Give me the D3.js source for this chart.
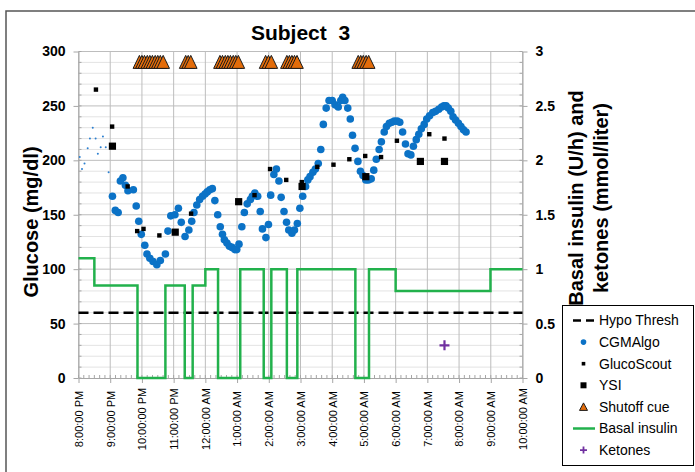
<!DOCTYPE html>
<html>
<head>
<meta charset="utf-8">
<script src="https://cdn.jsdelivr.net/npm/d3@7"></script>
<style>
  body { margin: 0; background: #fff; }
  svg { display: block; }
  text { font-family: "Liberation Sans", Arial, Helvetica, sans-serif; }
</style>
</head>
<body>
<svg id="chart" width="695" height="472"></svg>
<script>
// Time values are hours elapsed since 8:00 PM; glucose in mg/dl.
const cgmWarmup = [[0.04,203],[0.11,192],[0.19,197],[0.29,211],[0.36,220],[0.45,230],[0.54,220],[0.61,206],[0.70,212],[0.77,222],[0.86,212],[0.95,189]];

const cgmAlgo = [
  [1.07,167],[1.16,154],[1.25,152],[1.32,181],[1.40,184],[1.48,177],[1.56,172],[1.73,173],[1.82,158],[1.90,144],
  [1.98,132],[2.09,122],[2.16,114],[2.25,110],[2.35,107],[2.47,104],[2.58,108],[2.74,114],[2.82,135],[2.91,149],
  [3.04,150],[3.15,156],[3.24,143],[3.36,130],[3.48,136],[3.57,144],[3.64,152],[3.73,159],[3.82,164],[3.91,167],
  [3.99,169],[4.06,171],[4.14,173],[4.22,174],[4.30,163],[4.39,150],[4.47,139],[4.54,132],[4.60,127],[4.68,124],
  [4.76,121],[4.84,120],[4.93,118],[4.99,118],[5.06,123],[5.15,139],[5.23,152],[5.32,160],[5.42,164],[5.48,167],
  [5.56,170],[5.65,167],[5.73,153],[5.80,137],[5.91,129],[5.99,141],[6.06,168],[6.16,187],[6.24,192],[6.32,181],
  [6.39,166],[6.48,153],[6.56,143],[6.63,136],[6.73,133],[6.81,136],[6.90,142],[6.98,156],[7.07,167],[7.16,176],
  [7.23,182],[7.30,185],[7.39,189],[7.47,192],[7.56,197],[7.64,210],[7.72,233],[7.81,248],[7.90,255],[8.00,255],
  [8.09,251],[8.19,249],[8.27,255],[8.33,258],[8.40,255],[8.49,248],[8.57,238],[8.64,223],[8.72,211],[8.81,199],
  [8.89,190],[8.97,186],[9.06,182],[9.14,182],[9.23,183],[9.31,191],[9.39,201],[9.48,210],[9.55,217],[9.64,226],
  [9.71,231],[9.80,234],[9.88,235],[9.96,236],[10.05,236],[10.13,235],[10.22,226],[10.31,215],[10.39,206],[10.48,205],
  [10.56,213],[10.65,219],[10.73,224],[10.81,229],[10.90,233],[10.98,238],[11.07,241],[11.17,244],[11.26,245],[11.36,247],
  [11.45,249],[11.52,250],[11.59,250],[11.66,248],[11.74,245],[11.81,240],[11.89,237],[11.98,234],[12.06,231],[12.14,228],
  [12.22,226]
];

const glucoScout = [[0.55,265],[1.06,231],[1.55,176],[1.85,135],[2.05,137],[2.55,131],[3.55,151],[5.55,168],[6.04,192],[6.55,182],
  [7.04,180],[7.53,194],[8.04,196],[8.54,201],[9.04,204],[9.54,203],[10.04,218],[11.06,224],[11.54,220]];

const ysi = [[1.07,213],[3.05,134],[5.05,162],[7.05,176],[9.06,185],[10.78,199],[11.54,199]];

// Shutoff cue times (plotted along the top at a fixed glucose level)
const shutoffCue = [1.92,2.00,2.08,2.17,2.25,2.33,2.42,2.50,2.58,2.67,
  3.38,3.46,3.54,
  4.46,4.54,4.63,4.71,4.79,4.88,4.96,5.04,
  5.90,5.99,6.08,
  6.57,6.65,6.73,6.81,6.89,
  8.82,8.90,8.98,9.07,9.15];
const shutoffLevel = 290;

// Basal insulin rate (U/h), step changes
const basalInsulin = [[0,1.1],[0.5,0.85],[1.86,0],[2.74,0.85],[3.35,0],[3.60,0.85],[4.0,1.0],[4.40,0],[5.10,1.0],[5.84,0],
  [6.08,1.0],[6.57,0],[6.90,1.0],[8.73,0],[9.16,1.0],[10.0,0.8],[12.99,1.0],[14.0,1.0]];

// Ketones (mmol/liter)
const ketones = [[11.54,0.3]];

const hypoThresh = 60;

const glucoseTicks = [0,50,100,150,200,250,300];
const rightTicks = [0,0.5,1,1.5,2,2.5,3];

const legendItems = ["Hypo Thresh","CGMAlgo","GlucoScout","YSI","Shutoff cue","Basal insulin","Ketones"];

// ---- scales ----
const start = new Date(2000,0,1,20,0,0);
const end = new Date(2000,0,2,10,0,0);
const at = h => new Date(start.getTime() + h*3600e3);

const pLeft = 78.5, pRight = 522.5, pTop = 51.5, pBottom = 378;
const x = d3.scaleTime().domain([start,end]).range([pLeft,pRight]);
const yG = d3.scaleLinear().domain([0,300]).range([pBottom,pTop]);
const yR = d3.scaleLinear().domain([0,3]).range([pBottom,pTop]);

const svg = d3.select("#chart");

// outer frame
svg.append("rect").attr("x",6).attr("y",11).attr("width",720).attr("height",480)
  .attr("fill","none").attr("stroke","#555").attr("stroke-width",1.5);

// ---- grid ----
const grid = svg.append("g");
grid.selectAll(".minor").data(d3.range(0,301,10).filter(v => v % 50 !== 0)).join("line")
  .attr("x1",pLeft).attr("x2",pRight).attr("y1",d=>yG(d)).attr("y2",d=>yG(d))
  .attr("stroke","#e3e3e3").attr("stroke-width",1);
grid.selectAll(".major").data(glucoseTicks.slice(1)).join("line")
  .attr("x1",pLeft).attr("x2",pRight).attr("y1",d=>yG(d)).attr("y2",d=>yG(d))
  .attr("stroke","#bdbdbd").attr("stroke-width",1);
grid.selectAll(".vert").data(x.ticks(d3.timeHour.every(1))).join("line")
  .attr("x1",d=>x(d)).attr("x2",d=>x(d)).attr("y1",pTop).attr("y2",pBottom)
  .attr("stroke","#bdbdbd").attr("stroke-width",1);

// ---- axes ----
const axisColor = "#a6a6a6";
const xAxis = svg.append("g").attr("transform",`translate(0,${pBottom})`)
  .call(d3.axisBottom(x).ticks(d3.timeHour.every(1)).tickFormat(d3.timeFormat("%-I:%M:%S %p")).tickSize(5).tickSizeOuter(0));
xAxis.selectAll("text")
  .attr("transform","rotate(-90)").attr("x",-41).attr("y",0).attr("dy","0.35em")
  .attr("text-anchor","middle").attr("font-size",11).attr("fill","#000");
// minor time ticks every 10 minutes
svg.append("g").selectAll("line").data(x.ticks(d3.timeMinute.every(10))).join("line")
  .attr("x1",d=>x(d)).attr("x2",d=>x(d)).attr("y1",pBottom).attr("y2",pBottom-3)
  .attr("stroke",axisColor);

const yAxisL = svg.append("g").attr("transform",`translate(${pLeft},0)`)
  .call(d3.axisLeft(yG).tickValues(glucoseTicks).tickSize(5).tickPadding(8).tickSizeOuter(0));
yAxisL.selectAll("text").attr("font-size",14).attr("font-weight","bold").attr("fill","#000");
svg.append("g").selectAll("line").data(d3.range(0,301,10)).join("line")
  .attr("x1",pLeft).attr("x2",pLeft+3).attr("y1",d=>yG(d)).attr("y2",d=>yG(d)).attr("stroke",axisColor);

const yAxisR = svg.append("g").attr("transform",`translate(${pRight},0)`)
  .call(d3.axisRight(yR).tickValues(rightTicks).tickFormat(d3.format("~g")).tickSize(5).tickPadding(8).tickSizeOuter(0));
yAxisR.selectAll("text").attr("font-size",14).attr("font-weight","bold").attr("fill","#000");
svg.append("g").selectAll("line").data(d3.range(0,3.01,0.1)).join("line")
  .attr("x1",pRight).attr("x2",pRight-3).attr("y1",d=>yR(d)).attr("y2",d=>yR(d)).attr("stroke",axisColor);

[xAxis,yAxisL,yAxisR].forEach(a => {
  a.select(".domain").attr("stroke",axisColor);
  a.selectAll(".tick line").attr("stroke",axisColor);
});

// ---- series ----
const plot = svg.append("g");

// Hypo threshold
plot.append("line").attr("x1",pLeft).attr("x2",pRight).attr("y1",yG(hypoThresh)).attr("y2",yG(hypoThresh))
  .attr("stroke","#000").attr("stroke-width",2.5).attr("stroke-dasharray","10,5");

// Basal insulin
plot.append("path").datum(basalInsulin)
  .attr("d", d3.line().x(d=>x(at(d[0]))).y(d=>yR(d[1])).curve(d3.curveStepAfter))
  .attr("fill","none").attr("stroke","#22b14c").attr("stroke-width",2.5);

// CGM warm-up readings
plot.selectAll(".warm").data(cgmWarmup).join("circle")
  .attr("cx",d=>x(at(d[0]))).attr("cy",d=>yG(d[1])).attr("r",1).attr("fill","#2b7fd0");

// CGMAlgo
plot.selectAll(".cgm").data(cgmAlgo).join("circle")
  .attr("cx",d=>x(at(d[0]))).attr("cy",d=>yG(d[1])).attr("r",3.8).attr("fill","#0b72c6");

// GlucoScout
plot.selectAll(".gs").data(glucoScout).join("rect")
  .attr("x",d=>x(at(d[0]))-2.2).attr("y",d=>yG(d[1])-2.2).attr("width",4.4).attr("height",4.4).attr("fill","#000");

// YSI
plot.selectAll(".ysi").data(ysi).join("rect")
  .attr("x",d=>x(at(d[0]))-3.6).attr("y",d=>yG(d[1])-3.6).attr("width",7.2).attr("height",7.2).attr("fill","#000");

// Shutoff cues
const tri = "M0,-7L6.3,6L-6.3,6Z";
plot.selectAll(".cue").data(shutoffCue).join("path")
  .attr("d",tri).attr("transform",d=>`translate(${x(at(d))},${yG(shutoffLevel)})`)
  .attr("fill","#e36c0a").attr("stroke","#1a1a1a").attr("stroke-width",1).attr("stroke-linejoin","miter");

// Ketones
plot.selectAll(".ket").data(ketones).join("path")
  .attr("d","M-5,0H5M0,-5V5").attr("transform",d=>`translate(${x(at(d[0]))},${yR(d[1])})`)
  .attr("stroke","#7030a0").attr("stroke-width",2.2);

// ---- titles ----
svg.append("text").attr("x",(pLeft+pRight)/2).attr("y",40).attr("text-anchor","middle")
  .attr("font-size",21).attr("font-weight","bold").attr("xml:space","preserve").text("Subject  3");

svg.append("text").attr("transform","translate(31,222) rotate(-90)").attr("text-anchor","middle")
  .attr("dominant-baseline","central").attr("font-size",20).attr("font-weight","bold").text("Glucose (mg/dl)");

svg.append("text").attr("transform","translate(576,198) rotate(-90)").attr("text-anchor","middle")
  .attr("dominant-baseline","central").attr("font-size",20).attr("font-weight","bold").text("Basal insulin (U/h) and");
svg.append("text").attr("transform","translate(601,198) rotate(-90)").attr("text-anchor","middle")
  .attr("dominant-baseline","central").attr("font-size",20).attr("font-weight","bold").text("ketones (mmol/liter)");

// ---- legend ----
const lg = svg.append("g");
lg.append("rect").attr("x",562.5).attr("y",305.5).attr("width",131).attr("height",160)
  .attr("fill","#fff").attr("stroke","#000").attr("stroke-width",1);
const rowY = i => 320.5 + i*21.6;
const sx = 583.5;
legendItems.forEach((name,i) => {
  const g = lg.append("g").attr("transform",`translate(0,${rowY(i)})`);
  if (name === "Hypo Thresh") {
    g.append("line").attr("x1",573).attr("x2",595).attr("y1",0).attr("y2",0)
      .attr("stroke","#000").attr("stroke-width",2.5).attr("stroke-dasharray","8,5");
  } else if (name === "CGMAlgo") {
    g.append("circle").attr("cx",sx).attr("cy",0).attr("r",2.8).attr("fill","#0b72c6");
  } else if (name === "GlucoScout") {
    g.append("rect").attr("x",sx-1.8).attr("y",-1.8).attr("width",3.6).attr("height",3.6).attr("fill","#000");
  } else if (name === "YSI") {
    g.append("rect").attr("x",sx-3).attr("y",-3).attr("width",6).attr("height",6).attr("fill","#000");
  } else if (name === "Shutoff cue") {
    g.append("path").attr("d","M0,-4L4,3.5L-4,3.5Z").attr("transform",`translate(${sx},0)`)
      .attr("fill","#e36c0a").attr("stroke","#1a1a1a").attr("stroke-width",1);
  } else if (name === "Basal insulin") {
    g.append("line").attr("x1",573).attr("x2",595).attr("y1",0).attr("y2",0)
      .attr("stroke","#22b14c").attr("stroke-width",2.5);
  } else if (name === "Ketones") {
    g.append("path").attr("d","M-3.5,0H3.5M0,-3.5V3.5").attr("transform",`translate(${sx},0)`)
      .attr("stroke","#7030a0").attr("stroke-width",1.8);
  }
  g.append("text").attr("x",599).attr("y",0).attr("dy","0.35em").attr("font-size",14).text(name);
});
</script>
</body>
</html>
